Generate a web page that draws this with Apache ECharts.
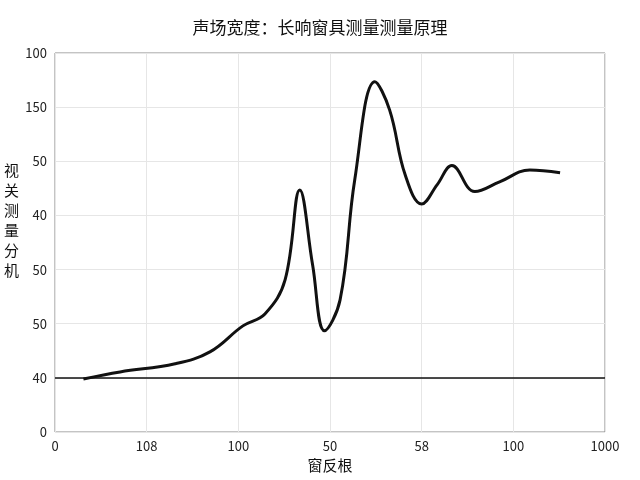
<!DOCTYPE html>
<html><head><meta charset="utf-8">
<script src="https://cdn.jsdelivr.net/npm/echarts@6/dist/echarts.min.js"></script>
<style>html,body{margin:0;padding:0;background:#fff}#c{width:640px;height:480px}</style>
</head><body><div id="c"></div>
<script>
const xTickLabels = ['0','108','100','50','58','100','1000'];
const yTickLabels = ['0','40','50','50','40','50','150','100'];
const curveX = [0.31,0.71,1.31,1.69,2.05,2.29,2.51,2.67,2.81,2.94,3.11,3.27,3.49,3.65,3.82,4.0,4.17,4.33,4.58,4.85,5.18,5.51];
const curveY = [0.98,1.11,1.26,1.48,1.96,2.18,2.81,4.47,3.09,1.87,2.44,4.66,6.47,5.95,4.75,4.21,4.57,4.92,4.44,4.62,4.84,4.79];
const baseline = 1;
const font = '"Noto Sans CJK SC", sans-serif';
const chart = echarts.init(document.getElementById('c'));
chart.setOption({
  animation:false,
  title:{text:'声场宽度：长响窗具测量测量原理',left:'center',top:14,textStyle:{fontFamily:font,fontSize:17,fontWeight:'normal',color:'#111'}},
  grid:{left:55,right:35,top:53,bottom:48,show:true,borderColor:'#888',borderWidth:1},
  xAxis:{type:'value',min:0,max:6,interval:1,name:'窗反根',nameLocation:'middle',nameGap:22,
    nameTextStyle:{fontFamily:font,fontSize:15,color:'#111'},
    axisLine:{show:false},axisTick:{show:false},
    axisLabel:{fontFamily:font,fontSize:13,color:'#222',formatter:v=>xTickLabels[Math.round(v)]},
    splitLine:{lineStyle:{color:'#e6e6e6'}}},
  yAxis:{type:'value',min:0,max:7,interval:1,
    axisLine:{show:false},axisTick:{show:false},
    axisLabel:{fontFamily:font,fontSize:13,color:'#222',formatter:v=>yTickLabels[Math.round(v)]},
    splitLine:{lineStyle:{color:'#e6e6e6'}}},
  graphic:[{type:'text',left:4,top:160,style:{text:'视\n关\n测\n量\n分\n机',font:'15px "Noto Sans CJK SC"',fill:'#111',lineHeight:20}}],
  series:[{type:'line',smooth:0.4,symbol:'none',data:curveX.map((x,i)=>[x,curveY[i]]),
    lineStyle:{color:'#111',width:3},
    markLine:{symbol:'none',silent:true,label:{show:false},lineStyle:{color:'#111',width:1.5,type:'solid'},data:[{yAxis:baseline}]}}]
});
</script></body></html>
